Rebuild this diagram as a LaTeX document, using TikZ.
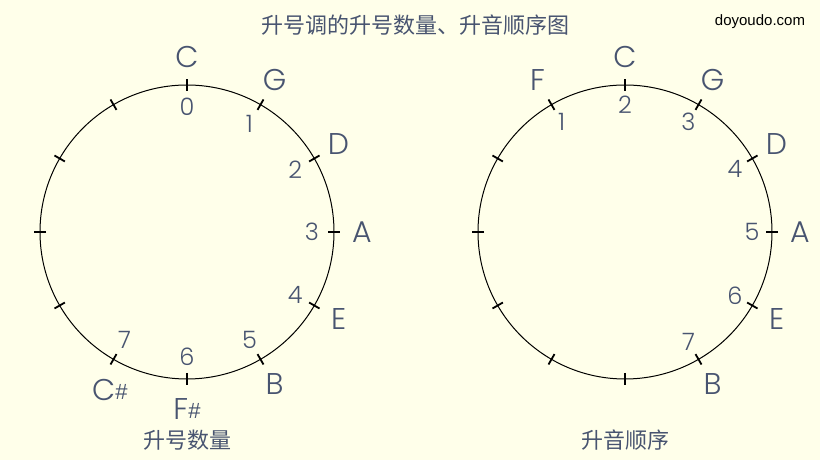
\documentclass[tikz,border=0pt]{standalone}
\usepackage{fontspec}
\setmainfont{Poppins}
\newfontfamily\keyfont{Poppins Light}
\newfontfamily\cjk{Noto Sans CJK SC}
\newfontfamily\webfont{Liberation Sans}
\definecolor{paperyellow}{RGB}{255,255,234}
\definecolor{inkblue}{RGB}{72,84,112}

\begin{document}
\begin{tikzpicture}[x=0.5pt,y=0.5pt,
    keylabel/.style={text=inkblue, font=\keyfont\fontsize{15}{15}\selectfont, inner sep=0pt},
    countlabel/.style={text=inkblue, font=\keyfont\fontsize{12}{12}\selectfont, inner sep=0pt},
    caption/.style={text=inkblue, font=\cjk\fontsize{11}{12}\selectfont, inner sep=0pt},
    tickmark/.style={line width=0.9pt}]
    \useasboundingbox[fill=paperyellow] (0,0) rectangle (820,460);

    % Title
    \node[caption] (title) at (415,435) {升号调的升号数量、升音顺序图};
    \node[font=\webfont\fontsize{7.5}{8}\selectfont, inner sep=0pt] (site) at (760,438) {doyoudo.com};

    % Left circle: number of sharps
    \coordinate (lc) at (187,228);
    \draw[line width=0.5pt] (lc) circle[radius=73.5pt];
    \foreach \ang in {0,30,...,330}
      \draw[tickmark, shift={(lc)}] (\ang:141) -- (\ang:153);
    \foreach \ang/\name [count=\k] in {90/C, 60/G, 30/D, 0/A, -30/E, -60/B}
      \node[keylabel] (lkey\k) at ([shift={(\ang:175)}]lc) {\name};
    \node[keylabel] (lkey7) at ([shift={(-90:177)}]lc)
      {F\raisebox{0.5pt}{\webfont\fontsize{11}{11}\selectfont\#}};
    \node[keylabel] (lkey8) at ([shift={(-116:176)}]lc)
      {C\raisebox{0.5pt}{\webfont\fontsize{11}{11}\selectfont\#}};
    \foreach \ang/\num [count=\k] in {90/0, 60/1, 30/2, 0/3, -30/4, -60/5, -90/6, -120/7}
      \node[countlabel] (lnum\k) at ([shift={(\ang:125)}]lc) {\num};
    \node[caption] (lcaption) at (187,20) {升号数量};

    % Right circle: order of sharps
    \coordinate (rc) at (625,228);
    \draw[line width=0.5pt] (rc) circle[radius=73.5pt];
    \foreach \ang in {0,30,...,330}
      \draw[tickmark, shift={(rc)}] (\ang:141) -- (\ang:153);
    \foreach \ang/\name [count=\k] in {120/F, 90/C, 60/G, 30/D, 0/A, -30/E, -60/B}
      \node[keylabel] (rkey\k) at ([shift={(\ang:175)}]rc) {\name};
    \foreach \ang/\num [count=\k] in {120/1, 90/2, 60/3, 30/4, 0/5, -30/6, -60/7}
      \node[countlabel] (rnum\k) at ([shift={(\ang:127)}]rc) {\num};
    \node[caption] (rcaption) at (625,20) {升音顺序};
\end{tikzpicture}
\end{document}
